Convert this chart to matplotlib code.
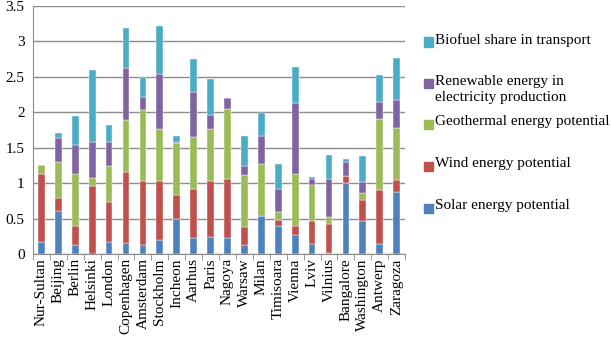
import numpy as np
import matplotlib.pyplot as plt
from matplotlib.patches import Rectangle
from matplotlib.ticker import FixedLocator

plt.rcParams["font.family"] = ["Liberation Serif", "DejaVu Serif"]

# =========================================
# DATA
# =========================================
cities = ["Nur-Sultan", "Beijing", "Berlin", "Helsinki", "London", "Copenhagen",
          "Amsterdam", "Stockholm", "Incheon", "Aarhus", "Paris", "Nagoya",
          "Warsaw", "Milan", "Timisoara", "Vienna", "Lviv", "Vilnius",
          "Bangalore", "Washington", "Antwerp", "Zaragoza"]

solar = [0.17, 0.60, 0.12, 0.00, 0.165, 0.155, 0.13, 0.20, 0.50, 0.225, 0.235,
         0.23, 0.12, 0.54, 0.395, 0.27, 0.14, 0.015, 1.00, 0.46, 0.14, 0.88]
wind = [0.96, 0.19, 0.28, 0.96, 0.575, 1.005, 0.90, 0.83, 0.33, 0.695, 0.795,
        0.83, 0.26, 0.00, 0.09, 0.125, 0.33, 0.405, 0.105, 0.30, 0.76, 0.16]
geothermal = [0.12, 0.51, 0.73, 0.11, 0.50, 0.73, 1.00, 0.73, 0.74, 0.73, 0.73,
              0.98, 0.73, 0.73, 0.105, 0.735, 0.50, 0.10, 0.00, 0.10, 1.005, 0.73]
renewable = [0.00, 0.34, 0.40, 0.51, 0.34, 0.73, 0.18, 0.78, 0.015, 0.64, 0.20,
             0.16, 0.13, 0.40, 0.33, 1.00, 0.09, 0.54, 0.195, 0.16, 0.24, 0.40]
biofuel = [0.00, 0.06, 0.42, 1.01, 0.24, 0.56, 0.28, 0.68, 0.085, 0.46, 0.51,
           0.00, 0.42, 0.32, 0.355, 0.51, 0.03, 0.33, 0.035, 0.36, 0.38, 0.60]

yticks = [0, 0.5, 1, 1.5, 2, 2.5, 3, 3.5]
ytick_labels = ["0", "0.5", "1", "1.5", "2", "2.5", "3", "3.5"]

series = [
    ("Solar energy potential", solar, "#4F81BD"),
    ("Wind energy potential", wind, "#C0504D"),
    ("Geothermal energy potential", geothermal, "#9BBB59"),
    ("Renewable energy in\nelectricity production", renewable, "#8064A2"),
    ("Biofuel share in transport", biofuel, "#4BACC6"),
]

# =========================================
# PLOT
# =========================================
W, H = 611, 340
fig = plt.figure(figsize=(W / 100, H / 100), dpi=100)
ax = fig.add_axes([0.054, 0.253, 0.609, 0.730])

x = np.arange(len(cities))
bottom = np.zeros(len(cities))
for label, vals, color in series:
    vals = np.array(vals)
    ax.bar(x, vals, 0.4, bottom=bottom, color=color, label=label,
           edgecolor="white", linewidth=0.3, zorder=3)
    bottom += vals

ax.set_xlim(-0.5, len(cities) - 0.5)
ax.set_ylim(0, 3.5)
ax.set_yticks(yticks)
ax.set_yticklabels(ytick_labels)
ax.grid(axis="y", color="#8c8c8c", linewidth=1.0, zorder=0)

ax.set_xticks(x)
ax.set_xticklabels(cities, rotation=90, fontsize=11)
ax.xaxis.set_minor_locator(FixedLocator(np.arange(-0.5, len(cities), 1)))
ax.tick_params(axis="x", which="major", length=0, pad=3)
ax.tick_params(axis="x", which="minor", length=4, color="#8c8c8c")
ax.tick_params(axis="y", length=0, labelsize=11, pad=6)

for s in ["top", "right"]:
    ax.spines[s].set_visible(False)
for s in ["left", "bottom"]:
    ax.spines[s].set_color("#8c8c8c")

# legend drawn by hand, Excel-style spacing (pixel positions from top)
legend_y = [208, 166, 124, 83, 42]
for (label, vals, color), py in zip(series, legend_y):
    fig.patches.append(Rectangle((424 / W, 1 - (py + 4.5) / H), 9 / W, 9 / H,
                                 transform=fig.transFigure, color=color))
    fig.text(435 / W, 1 - (py - 8.5) / H, label, fontsize=11, va="top",
             ha="left", linespacing=1.3)

fig.savefig("out.png", dpi=100)
